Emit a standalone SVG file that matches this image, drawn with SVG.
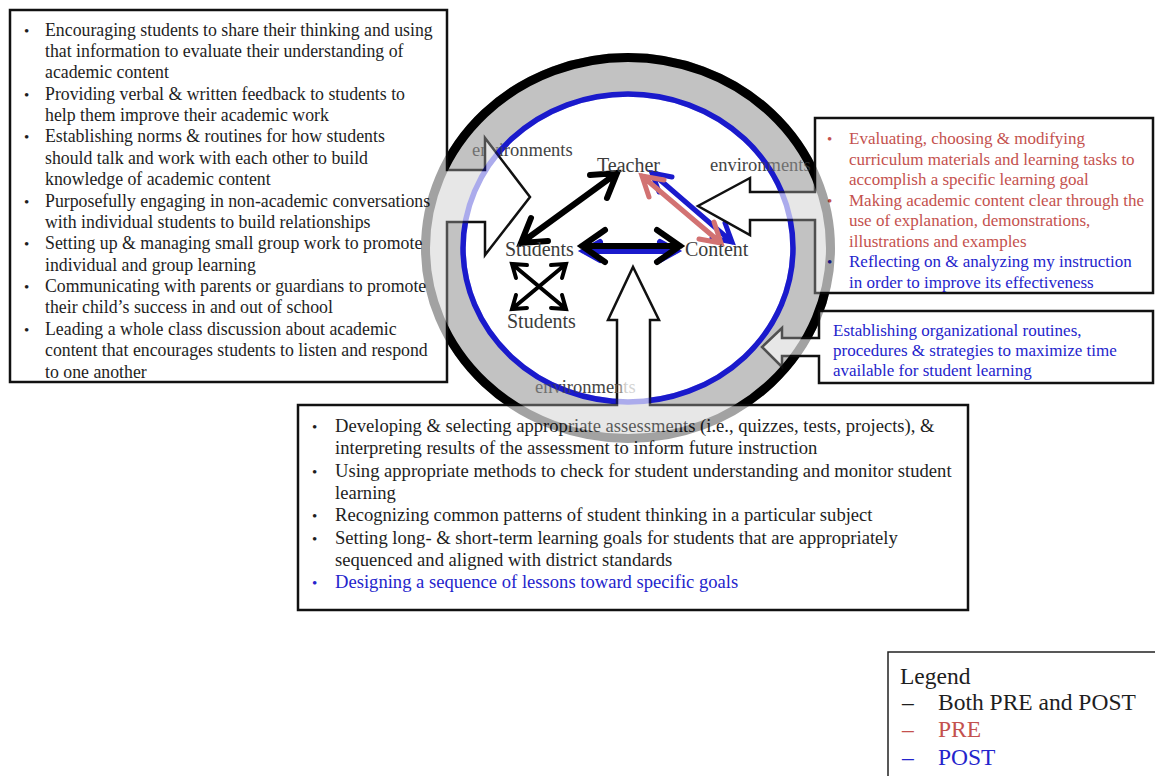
<svg xmlns="http://www.w3.org/2000/svg" width="1155" height="776" viewBox="0 0 1155 776">
<defs>
<style>
.box{fill:#fff;stroke:#111;stroke-width:2.5;stroke-linejoin:miter}
.t{font-family:"Liberation Serif","Times New Roman",serif;font-size:17.8px;fill:#1e1e1e}
.tb{font-family:"Liberation Serif","Times New Roman",serif;font-size:18.6px;fill:#1e1e1e}
.tr{font-family:"Liberation Serif","Times New Roman",serif;font-size:17px}
.bul{font-size:15px}
.lbl{font-family:"Liberation Serif","Times New Roman",serif;font-size:20px;fill:#3c3c3c}
.env{font-family:"Liberation Serif","Times New Roman",serif;font-size:18.5px;fill:#444}
.leg{font-family:"Liberation Serif","Times New Roman",serif;font-size:23.5px;fill:#1e1e1e}
.arr{fill:none;stroke-linecap:round;stroke-linejoin:miter}
.red{fill:#c4514e}
.blue{fill:#2424cc}
</style>
<linearGradient id="fade" gradientUnits="userSpaceOnUse" x1="535" y1="0" x2="636" y2="0">
<stop offset="0" stop-color="#444"/>
<stop offset="0.8" stop-color="#444"/>
<stop offset="0.9" stop-color="#d4d4d4"/>
<stop offset="1" stop-color="#d4d4d4"/>
</linearGradient>
</defs>
<rect width="1155" height="776" fill="#fff"/>

<g id="ring">
<ellipse cx="628" cy="248" rx="202.5" ry="190.5" fill="#c6c6c6" stroke="#000" stroke-width="9"/>
<ellipse cx="628" cy="248" rx="165" ry="154" fill="#fff" stroke="#1a1acc" stroke-width="5.5"/>
</g>

<g id="env-labels">
<text x="472" y="156" class="env">environments</text>
<text x="710" y="171" class="env">environments</text>
</g>

<g id="connectors">
<path class="arr" stroke="#000" stroke-width="6" d="M590,175 L617,173 L607,198 M617,173 L521,243 M548,241 L521,243 L531,218"/>
<path class="arr" stroke="#1a1acc" stroke-width="6" d="M600,242 L584,251 L600,260 M584,251 L676,251 M660,242 L676,251 L660,260"/>
<path class="arr" stroke="#000" stroke-width="6" d="M605,230 L582,246 L605,262 M582,246 L680,246 M657,230 L680,246 L657,262"/>
<path class="arr" stroke="#1a1acc" stroke-width="5" d="M672,177 L652,173 L659,192 M652,173 L732,242 M712,238 L732,242 L725,223"/>
<path class="arr" stroke="#d27272" stroke-width="5" d="M649,197 L642,176 L664,180 M642,176 L721,243 M714,222 L721,243 L699,239"/>
<path class="arr" stroke="#000" stroke-width="4" d="M516,278 L512,264 L527,265 M512,264 L566,309 M562,295 L566,309 L551,308"/>
<path class="arr" stroke="#000" stroke-width="4" d="M551,265 L566,264 L562,278 M566,264 L512,309 M527,308 L512,309 L516,295"/>
</g>

<g id="teacher"><text x="597" y="172" class="lbl">Teacher</text></g>
<g id="students"><text x="505" y="256" class="lbl">Students</text></g>
<g id="content"><text x="685" y="256" class="lbl">Content</text></g>
<g id="students2"><text x="507" y="328" class="lbl">Students</text></g>

<g id="box-left">
<path class="box" d="M10,10 H447 V170 H485 V138 L530,197 L485,255 V222 H447 V382 H10 Z"/>
<g class="t">
<text x="24" y="35.5" class="bul">•</text>
<text x="45" y="35.5">Encouraging students to share their thinking and using</text>
<text x="45" y="56.9">that information to evaluate their understanding of</text>
<text x="45" y="78.2">academic content</text>
<text x="24" y="99.6" class="bul">•</text>
<text x="45" y="99.6">Providing verbal &amp; written feedback to students to</text>
<text x="45" y="121">help them improve their academic work</text>
<text x="24" y="142.4" class="bul">•</text>
<text x="45" y="142.4">Establishing norms &amp; routines for how students</text>
<text x="45" y="163.7">should talk and work with each other to build</text>
<text x="45" y="185.1">knowledge of academic content</text>
<text x="24" y="206.5" class="bul">•</text>
<text x="45" y="206.5">Purposefully engaging in non-academic conversations</text>
<text x="45" y="227.9">with individual students to build relationships</text>
<text x="24" y="249.2" class="bul">•</text>
<text x="45" y="249.2">Setting up &amp; managing small group work to promote</text>
<text x="45" y="270.6">individual and group learning</text>
<text x="24" y="292" class="bul">•</text>
<text x="45" y="292">Communicating with parents or guardians to promote</text>
<text x="45" y="313.4">their child’s success in and out of school</text>
<text x="24" y="334.7" class="bul">•</text>
<text x="45" y="334.7">Leading a whole class discussion about academic</text>
<text x="45" y="356.1">content that encourages students to listen and respond</text>
<text x="45" y="377.5">to one another</text>
</g>
</g>

<g id="box-right-top">
<path class="box" d="M815,118 H1153 V293 H815 V220 H750 V235 L698,206 L750,178 V192 H815 Z"/>
<g class="tr">
<text x="827" y="144" class="red bul">•</text>
<text x="849" y="144" class="red">Evaluating, choosing &amp; modifying</text>
<text x="849" y="164.5" class="red">curriculum materials and learning tasks to</text>
<text x="849" y="185" class="red">accomplish a specific learning goal</text>
<text x="827" y="205.5" class="red bul">•</text>
<text x="849" y="205.5" class="red">Making academic content clear through the</text>
<text x="849" y="226" class="red">use of explanation, demonstrations,</text>
<text x="849" y="246.5" class="red">illustrations and examples</text>
<text x="827" y="267" class="blue bul">•</text>
<text x="849" y="267" class="blue">Reflecting on &amp; analyzing my instruction</text>
<text x="849" y="287.5" class="blue">in order to improve its effectiveness</text>
</g>
</g>

<g id="box-right-bottom">
<path class="box" d="M819,311 H1153 V383 H819 V356 H782 V367 L762,347 L782,328 V338 H819 Z"/>
<g class="tr blue">
<text x="833" y="335.5">Establishing organizational routines,</text>
<text x="833" y="355.5">procedures &amp; strategies to maximize time</text>
<text x="833" y="375.5">available for student learning</text>
</g>
</g>

<g id="box-bottom">
<path class="box" d="M298,405 H617 V320 H608 L633,267 L659,320 H650 V405 H968 V610 H298 Z"/>
<g class="tb">
<text x="312" y="432" class="bul">•</text>
<text x="335" y="432">Developing &amp; selecting appropriate assessments (i.e., quizzes, tests, projects), &amp;</text>
<text x="335" y="454.3">interpreting results of the assessment to inform future instruction</text>
<text x="312" y="476.6" class="bul">•</text>
<text x="335" y="476.6">Using appropriate methods to check for student understanding and monitor student</text>
<text x="335" y="498.9">learning</text>
<text x="312" y="521.2" class="bul">•</text>
<text x="335" y="521.2">Recognizing common patterns of student thinking in a particular subject</text>
<text x="312" y="543.5" class="bul">•</text>
<text x="335" y="543.5">Setting long- &amp; short-term learning goals for students that are appropriately</text>
<text x="335" y="565.8">sequenced and aligned with district standards</text>
<text x="312" y="588.1" class="bul blue">•</text>
<text x="335" y="588.1" class="blue">Designing a sequence of lessons toward specific goals</text>
</g>
</g>

<g id="env-bottom"><text x="535" y="393" class="env" style="fill:url(#fade)">environments</text></g>

<g id="ring-ghost" opacity="0.36">
<path fill="#bdbdbd" fill-rule="evenodd" d="M425.5,248 a202.5,190.5 0 1,0 405,0 a202.5,190.5 0 1,0 -405,0 Z M463,248 a165,154 0 1,0 330,0 a165,154 0 1,0 -330,0 Z"/>
<ellipse cx="628" cy="248" rx="202.5" ry="190.5" fill="none" stroke="#000" stroke-width="9"/>
<ellipse cx="628" cy="248" rx="165" ry="154" fill="none" stroke="#1a1acc" stroke-width="5.5"/>
</g>

<g id="legend">
<rect x="888" y="652" width="300" height="150" fill="#fff" stroke="#222" stroke-width="1.5"/>
<text x="900" y="684" class="leg">Legend</text>
<text x="902" y="710" class="leg">–</text>
<text x="938" y="710" class="leg">Both PRE and POST</text>
<text x="902" y="737" class="leg red">–</text>
<text x="938" y="737" class="leg red">PRE</text>
<text x="902" y="765" class="leg blue">–</text>
<text x="938" y="765" class="leg blue">POST</text>
</g>
</svg>
